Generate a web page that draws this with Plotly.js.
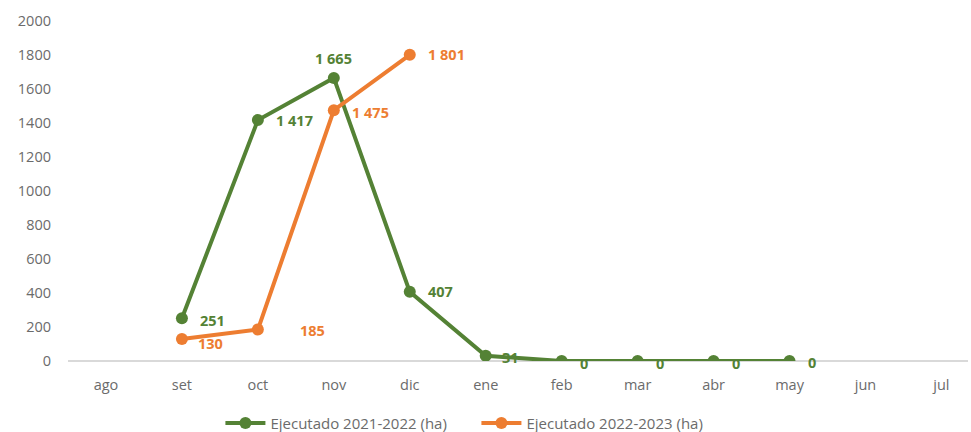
<!DOCTYPE html>
<html><head><meta charset="utf-8">
<script src="https://cdn.plot.ly/plotly-3.0.1.min.js"></script>
<style>body{margin:0;background:#fff}#c{width:971px;height:432px}</style>
</head><body><div id="c"></div>
<script>
const months = ["ago","set","oct","nov","dic","ene","feb","mar","abr","may","jun","jul"];
const serie1Name = "Ejecutado 2021-2022 (ha)";
const serie2Name = "Ejecutado 2022-2023 (ha)";
const serie1 = [null,251,1417,1665,407,31,0,0,0,0,null,null];
const serie2 = [null,130,185,1475,1801,null,null,null,null,null,null,null];
const yTicks = [0,200,400,600,800,1000,1200,1400,1600,1800,2000];

const green = "#548235", orange = "#ED7D31";
function fmt(v){ const s = String(Math.round(v)); return s.length>3 ? s.slice(0,-3)+" "+s.slice(-3) : s; }

const traces = [
 {x:months,y:serie1,name:serie1Name,mode:"lines+markers",line:{color:green,width:4},marker:{color:green,size:12},connectgaps:false},
 {x:months,y:serie2,name:serie2Name,mode:"lines+markers",line:{color:orange,width:4},marker:{color:orange,size:12},connectgaps:false}
];
const ann = [];
function addLabels(vals,color,special){
  vals.forEach((v,i)=>{ if(v===null) return;
    const sp = special[i]||{};
    ann.push({x:months[i],y:v,text:"<b>"+fmt(v)+"</b>",showarrow:false,xanchor:sp.xanchor||"left",yanchor:"middle",
      xshift:sp.xshift!==undefined?sp.xshift:16,yshift:sp.yshift||0,font:{color:color,size:14.5,family:"Open Sans"}});
  });
}
addLabels(serie1,green,{1:{yshift:-2},3:{xanchor:"center",xshift:0,yshift:19},5:{xshift:14,yshift:-2},6:{yshift:-2},7:{yshift:-2},8:{yshift:-2},9:{xshift:16,yshift:-1}});
addLabels(serie2,orange,{1:{xshift:14,yshift:-5},2:{xshift:40,yshift:-1},3:{xshift:16,yshift:-2},4:{xshift:16}});

const layout = {
  width:971,height:432,margin:{l:68,r:3,t:21,b:71,autoexpand:false},
  paper_bgcolor:"#fff",plot_bgcolor:"#fff",
  font:{family:"Open Sans",color:"#6b6b6b",size:14.5},
  showlegend:true,
  legend:{orientation:"h",xref:"container",x:0.227,xanchor:"left",yref:"container",y:0.02,yanchor:"middle",font:{size:15,color:"#6b6b6b"},itemwidth:40,entrywidth:201,entrywidthmode:"pixels",tracegroupgap:0},
  xaxis:{type:"category",categoryorder:"array",categoryarray:months,range:[-0.5,11.35],showgrid:false,showline:false,zeroline:false,ticks:"",ticklabelstandoff:13,tickfont:{size:14.5,color:"#6b6b6b"},automargin:false},
  yaxis:{range:[0,2000],tickvals:yTicks,showgrid:false,zeroline:true,zerolinecolor:"#d9d9d9",zerolinewidth:2,showline:false,ticks:"",ticklabelstandoff:16,tickfont:{size:14.5,color:"#6b6b6b"},automargin:false},
  annotations:ann
};
Plotly.newPlot("c",traces,layout,{displayModeBar:false,staticPlot:true});
</script></body></html>
